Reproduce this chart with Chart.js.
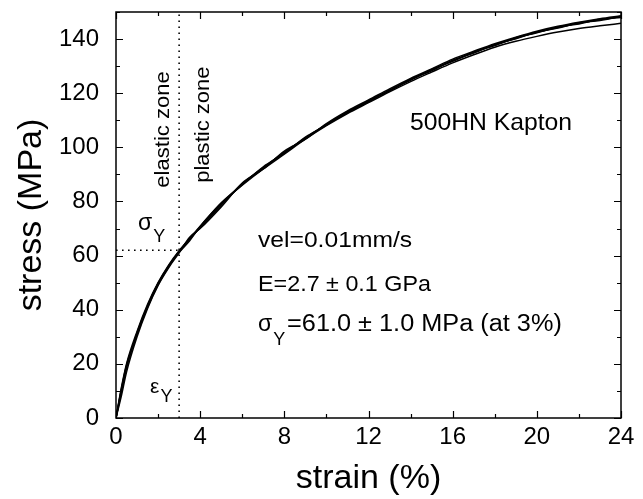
<!DOCTYPE html>
<html>
<head>
<meta charset="utf-8">
<script src="https://cdn.jsdelivr.net/npm/chart.js@4.4.1/dist/chart.umd.min.js"></script>
<style>
  html, body { margin: 0; padding: 0; background: #fff; }
  #wrap { width: 643px; height: 499px; }
</style>
</head>
<body>
<div id="wrap"><canvas id="chart" width="643" height="499"></canvas></div>
<script>
// strain (%) sample points shared by all runs
const strain = [0, 0.25, 0.5, 1, 1.5, 2, 2.5, 3, 3.5, 4, 5, 6, 7, 8, 9, 10, 11, 12, 13, 14, 15, 16, 17, 18, 19, 20, 21, 22, 23, 24];

// stress (MPa) of the five test runs
const run1 = [0, 10, 19, 31, 41, 49.5, 56, 61.5, 66, 70.5, 79, 86.5, 92.5, 98, 103.5, 108.5, 113, 117, 121, 125, 128.5, 132, 135, 137.8, 140.3, 142.5, 144.3, 145.8, 147.1, 148.3];
const run2 = [0, 11, 20, 32, 42, 50, 56.5, 61.8, 66.3, 70.8, 79.5, 86, 92, 97.5, 103, 108, 112.5, 116.5, 120.5, 124.3, 127.8, 131.2, 134.2, 137, 139.2, 141, 142.6, 143.9, 144.9, 145.8];
const run3 = [0, 8, 17, 30, 40.5, 49, 55.5, 61, 66.8, 70, 78, 86.8, 92, 98.6, 103, 108.8, 113.5, 117.5, 121.6, 125.5, 129, 132.6, 135.5, 138.3, 140.7, 142.9, 144.7, 146.2, 147.5, 148.6];
const run4 = [0, 9.5, 18.5, 31.5, 41.5, 49.8, 56.2, 61.2, 65.5, 70.8, 79.2, 86.2, 92.8, 97.8, 103.8, 108.2, 113.2, 116.8, 121.2, 124.8, 128.8, 131.8, 135.2, 137.6, 140.5, 142.3, 144.5, 145.6, 147.3, 148];
const run5 = [0, 10.5, 19.5, 31, 41, 49.2, 55.8, 61.6, 66.2, 70.3, 78.6, 86.4, 92.3, 98.2, 103.3, 108.4, 112.8, 117.2, 120.8, 125.2, 128.3, 132.2, 134.8, 138, 140.1, 142.6, 144.1, 146, 146.9, 148.4];
const runs = [run1, run2, run3, run4, run5];

// yield point
const yieldStrain = 3;
const yieldStress = 62;

// axes
const xMin = 0, xMax = 24, xStep = 2, xLabelEvery = 4;
const yMin = 0, yMax = 150, yStep = 10, yLabelEvery = 20;

const FONT = "'Liberation Sans', Arial, sans-serif";

const toPoints = (ys) => ys.map((y, i) => ({ x: strain[i], y: y }));

const datasets = runs.map((r) => ({
  data: toPoints(r),
  borderColor: "#000",
  borderWidth: 1.5,
  pointRadius: 0,
  fill: false,
  cubicInterpolationMode: "monotone",
}));

// dotted guide lines at the yield point
datasets.push({
  data: [{ x: yieldStrain, y: yMin }, { x: yieldStrain, y: yMax }],
  borderColor: "#000",
  borderWidth: 1.6,
  borderDash: [1.6, 4.4],
  pointRadius: 0,
});
datasets.push({
  data: [{ x: xMin, y: yieldStress }, { x: yieldStrain, y: yieldStress }],
  borderColor: "#000",
  borderWidth: 1.6,
  borderDash: [1.6, 4.4],
  pointRadius: 0,
});

// frame and inward ticks on all four sides
const framePlugin = {
  id: "frame",
  afterDraw(chart) {
    const { ctx, chartArea: a, scales } = chart;
    ctx.save();
    ctx.strokeStyle = "#000";
    ctx.lineWidth = 1.5;
    ctx.strokeRect(a.left, a.top, a.right - a.left, a.bottom - a.top);
    ctx.lineWidth = 1.2;
    ctx.beginPath();
    scales.x.ticks.forEach((t) => {
      const px = Math.round(scales.x.getPixelForValue(t.value)) + 0.5;
      const len = t.value % xLabelEvery === 0 ? 7 : 4;
      ctx.moveTo(px, a.bottom); ctx.lineTo(px, a.bottom - len);
      ctx.moveTo(px, a.top); ctx.lineTo(px, a.top + len);
    });
    scales.y.ticks.forEach((t) => {
      const py = Math.round(scales.y.getPixelForValue(t.value)) + 0.5;
      const len = t.value % yLabelEvery === 0 ? 7 : 4;
      ctx.moveTo(a.left, py); ctx.lineTo(a.left + len, py);
      ctx.moveTo(a.right, py); ctx.lineTo(a.right - len, py);
    });
    ctx.stroke();
    ctx.restore();
  },
};

// text notes placed in data coordinates
const notesPlugin = {
  id: "notes",
  afterDraw(chart) {
    const { ctx } = chart;
    const xs = chart.scales.x, ys = chart.scales.y;
    const put = (text, x, y, size, opts = {}) => {
      ctx.save();
      ctx.font = size + "px " + FONT;
      ctx.fillStyle = "#000";
      ctx.textAlign = opts.align || "left";
      ctx.textBaseline = opts.baseline || "alphabetic";
      ctx.translate(xs.getPixelForValue(x) + (opts.dx || 0), ys.getPixelForValue(y) + (opts.dy || 0));
      if (opts.rotate) ctx.rotate(opts.rotate);
      ctx.scale(opts.sx || 1, 1);
      ctx.fillText(text, 0, 0);
      const w = ctx.measureText(text).width * (opts.sx || 1);
      ctx.restore();
      return w;
    };

    put("500HN Kapton", 13.97, 106.4, 24, { sx: 1.03 });
    put("elastic zone", 2.23, 106.6, 21, { align: "center", baseline: "middle", rotate: -Math.PI / 2, sx: 1.05 });
    put("plastic zone", 4.13, 108.4, 21, { align: "center", baseline: "middle", rotate: -Math.PI / 2, sx: 1.05 });

    // sigma_Y / epsilon_Y beside the guide lines
    let w = put("\u03c3", 1.05, 69.4, 23);
    put("Y", 1.05, 69.4, 18, { dx: w + 1, dy: 12 });
    w = put("\u03b5", 1.62, 9.2, 21);
    put("Y", 1.62, 9.2, 18, { dx: w + 1, dy: 9 });

    // test summary
    put("vel=0.01mm/s", 6.75, 63.3, 22, { sx: 1.12 });
    put("E=2.7 \u00b1 0.1 GPa", 6.75, 47.1, 22, { sx: 1.06 });
    w = put("\u03c3", 6.75, 32, 23);
    put("Y", 6.75, 32, 18, { dx: w + 1, dy: 14 });
    put("=61.0 \u00b1 1.0 MPa (at 3%)", 8.13, 32.2, 23, { sx: 1.1 });
  },
};

new Chart(document.getElementById("chart"), {
  type: "line",
  data: { datasets: datasets },
  options: {
    responsive: false,
    animation: false,
    events: [],
    layout: { padding: { top: 12, right: 22, left: 0, bottom: 0 } },
    plugins: { legend: { display: false }, tooltip: { enabled: false } },
    scales: {
      x: {
        type: "linear",
        min: xMin,
        max: xMax,
        afterFit: (s) => { s.height = 81; s.paddingLeft = 0; s.paddingRight = 0; },
        grid: { display: false },
        border: { display: false },
        ticks: {
          stepSize: xStep,
          autoSkip: false,
          maxRotation: 0,
          padding: -3,
          color: "#000",
          font: { family: FONT, size: 24 },
          callback: (v) => (v % xLabelEvery === 0 ? v : ""),
        },
        title: {
          display: true,
          text: "strain (%)",
          color: "#000",
          font: { family: FONT, size: 34 },
          padding: { top: 0, bottom: 0 },
        },
      },
      y: {
        type: "linear",
        min: yMin,
        max: yMax,
        afterFit: (s) => { s.width = 116; s.paddingTop = 0; s.paddingBottom = 0; },
        grid: { display: false },
        border: { display: false },
        ticks: {
          stepSize: yStep,
          autoSkip: false,
          padding: 9,
          color: "#000",
          font: { family: FONT, size: 24 },
          callback: (v) => (v % yLabelEvery === 0 ? v : ""),
        },
        title: {
          display: true,
          text: "stress (MPa)",
          color: "#000",
          font: { family: FONT, size: 34 },
          padding: { top: 11, bottom: 0 },
        },
      },
    },
  },
  plugins: [framePlugin, notesPlugin],
});
</script>
</body>
</html>
